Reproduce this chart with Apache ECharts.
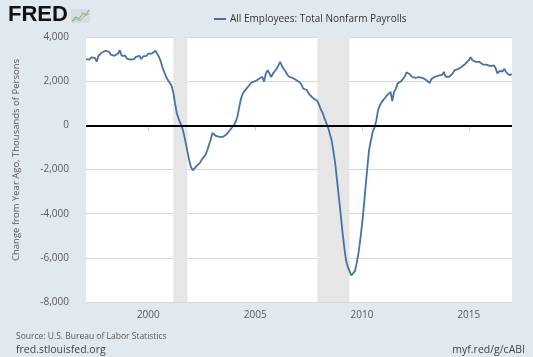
<!DOCTYPE html>
<html>
<head>
<meta charset="utf-8">
<script src="https://cdn.jsdelivr.net/npm/echarts@6/dist/echarts.min.js"></script>
<style>
html,body{margin:0;padding:0;background:#e1e9f0;}
#chart{width:533px;height:357px;}
</style>
</head>
<body>
<div id="chart"></div>
<script>
// Monthly year-over-year change, thousands of persons (series starts Feb 1997)
const firstYear = 1997;
const firstMonth = 2;
const y1997 = [3000, 3050, 2980, 3080, 3100, 3050, 2880, 3150, 3200, 3300, 3350];
const y1998 = [3380, 3430, 3320, 3200, 3260, 3150, 3120, 3250, 3400, 3150, 3100, 3150];
const y1999 = [3020, 2950, 2980, 3050, 3000, 3100, 3060, 3150, 3000, 3120, 3080, 3150];
const y2000 = [3250, 3180, 3250, 3300, 3380, 3320, 3100, 2900, 2600, 2400, 2200, 2050];
const y2001 = [1980, 1800, 1500, 1000, 550, 300, 100, -100, -400, -800, -1200, -1600];
const y2002 = [-1900, -2040, -1950, -1850, -1780, -1700, -1550, -1450, -1350, -1150, -900, -650];
const y2003 = [-350, -300, -480, -500, -520, -500, -520, -450, -400, -300, -250, -100];
const y2004 = [0, 150, 380, 800, 1200, 1430, 1550, 1650, 1700, 1850, 1950, 2040];
const y2005 = [2000, 2050, 2100, 2050, 2200, 1980, 2350, 2500, 2550, 2190, 2350, 2450];
const y2006 = [2550, 2700, 2870, 2700, 2550, 2450, 2300, 2200, 2150, 2150, 2100, 2050];
const y2007 = [2040, 1950, 1850, 1660, 1720, 1600, 1450, 1350, 1300, 1200, 1150, 1100];
const y2008 = [900, 700, 550, 300, 100, -100, -400, -700, -1200, -1750, -2500, -3250];
const y2009 = [-4000, -4800, -5500, -6100, -6400, -6600, -6800, -6750, -6600, -6250, -5800, -5200];
const y2010 = [-4500, -3700, -2800, -1900, -1100, -700, -300, -100, 200, 680, 900, 1050];
const y2011 = [1150, 1250, 1360, 1420, 1520, 1100, 1520, 1650, 1900, 1960, 2000, 2050];
const y2012 = [2200, 2400, 2420, 2300, 2200, 2120, 2150, 2200, 2180, 2190, 2150, 2100];
const y2013 = [2050, 2040, 1920, 2100, 2190, 2200, 2250, 2250, 2300, 2280, 2420, 2200];
const y2014 = [2250, 2200, 2120, 2350, 2500, 2570, 2550, 2600, 2650, 2700, 2780, 2800];
const y2015 = [2950, 3090, 2950, 2900, 2870, 2850, 2870, 2850, 2750, 2720, 2750, 2700];
const y2016 = [2680, 2700, 2720, 2600, 2350, 2450, 2480, 2450, 2560, 2400, 2350, 2260];
const y2017 = [2340];

const recessionStarts = ['2001-03', '2007-12'];
const recessionEnds = ['2001-11', '2009-06'];
const xTickLabels = [2000, 2005, 2010, 2015];
const seriesName = 'All Employees: Total Nonfarm Payrolls';

const allValues = [].concat(y1997, y1998, y1999, y2000, y2001, y2002, y2003, y2004,
  y2005, y2006, y2007, y2008, y2009, y2010, y2011, y2012, y2013, y2014, y2015, y2016, y2017);

function ym(s) { const p = s.split('-'); return +p[0] + (+p[1] - 1) / 12; }
const data = allValues.map((v, i) => {
  const m = firstMonth - 1 + i;
  return [firstYear + m / 12, v];
});
const xMin = data[0][0];
const xMax = data[data.length - 1][0] + 0.02;

const font = '"Open Sans", sans-serif';
const chart = echarts.init(document.getElementById('chart'), null, {renderer: 'canvas'});
chart.setOption({
  backgroundColor: '#e1e9f0',
  animation: false,
  textStyle: {fontFamily: font},
  grid: {left: 86, right: 21, top: 37, bottom: 55, show: true, backgroundColor: '#ffffff', borderWidth: 0},
  legend: {
    data: [seriesName], left: 209, top: 9, icon: 'rect', itemWidth: 12, itemHeight: 2, itemGap: 5,
    textStyle: {fontFamily: font, fontSize: 10, color: '#333333', padding: [0, 0, 0, -1]}
  },
  xAxis: {
    type: 'value', min: xMin, max: xMax,
    axisLine: {show: false},
    splitLine: {show: false},
    axisTick: {show: true, customValues: xTickLabels, length: 5, lineStyle: {color: '#c8c8c8'}},
    axisLabel: {customValues: xTickLabels, margin: 8, fontFamily: font, fontSize: 10, color: '#595959',
      formatter: v => String(Math.round(v))}
  },
  yAxis: {
    type: 'value', min: -8000, max: 4000, interval: 2000,
    axisLine: {show: false}, axisTick: {show: false},
    splitLine: {lineStyle: {color: '#d8d8d8', width: 1}},
    axisLabel: {margin: 17, fontFamily: font, fontSize: 10, color: '#595959',
      formatter: v => v.toLocaleString('en-US')}
  },
  graphic: [
    {type: 'text', left: 8, top: 4, style: {text: 'FRED', font: 'bold 22px "Liberation Sans", Arial, sans-serif', fill: '#111111'}},
    {type: 'rect', shape: {x: 71, y: 9, width: 19, height: 14}, style: {fill: '#d6dee4'}},
    {type: 'polyline', shape: {points: [[72, 21], [76, 17], [79, 19], [83, 13], [86, 15], [89, 10]]}, style: {stroke: '#8fb56e', lineWidth: 1.2, fill: null}},
    {type: 'polyline', shape: {points: [[72, 22], [76, 19], [80, 21], [84, 16], [89, 14]]}, style: {stroke: '#9fb3c4', lineWidth: 1, fill: null}},
    {type: 'text', x: 16, y: 160, rotation: Math.PI / 2,
      style: {text: 'Change from Year Ago, Thousands of Persons', font: '9.5px "Open Sans", sans-serif', fill: '#595959', textAlign: 'center', textVerticalAlign: 'middle'}},
    {type: 'text', x: 16, y: 336.5, style: {text: 'Source: U.S. Bureau of Labor Statistics', font: '8.5px "Open Sans", sans-serif', fill: '#595959', textVerticalAlign: 'middle'}},
    {type: 'text', x: 16, y: 350.5, style: {text: 'fred.stlouisfed.org', font: '10.5px "Open Sans", sans-serif', fill: '#444444', textVerticalAlign: 'middle'}},
    {type: 'text', x: 525, y: 350.5, style: {text: 'myf.red/g/cABI', font: '10.5px "Open Sans", sans-serif', fill: '#444444', textAlign: 'right', textVerticalAlign: 'middle'}}
  ],
  series: [{
    name: seriesName, type: 'line', data: data, showSymbol: false,
    lineStyle: {color: '#4572a7', width: 1.8}, itemStyle: {color: '#4572a7'},
    z: 3,
    markArea: {
      silent: true, itemStyle: {color: '#e6e6e6'},
      data: recessionStarts.map((s, i) => [{xAxis: ym(s)}, {xAxis: ym(recessionEnds[i])}])
    },
    markLine: {
      silent: true, symbol: 'none', label: {show: false},
      lineStyle: {color: '#000000', width: 2, type: 'solid'},
      data: [{yAxis: 0}]
    }
  }]
});
</script>
</body>
</html>
